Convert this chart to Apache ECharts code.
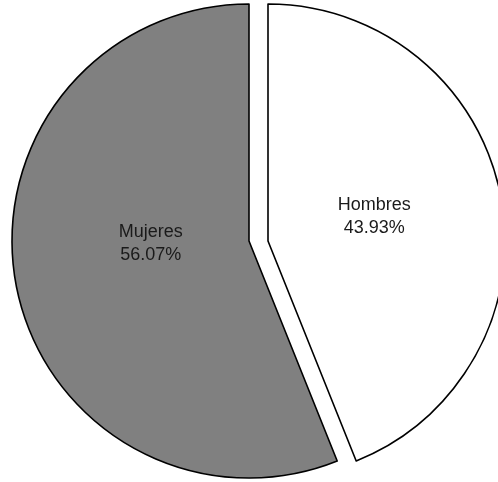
<!DOCTYPE html>
<html>
<head>
<meta charset="utf-8">
<script src="https://cdn.jsdelivr.net/npm/echarts@6/dist/echarts.min.js"></script>
<style>
html,body{margin:0;padding:0;background:#fff;}
#c{width:498px;height:482px;}
</style>
</head>
<body>
<div id="c"></div>
<script>
const categories = ['Hombres', 'Mujeres'];
const values = [43.93, 56.07];
const colors = ['#ffffff', '#808080'];
const explodedIndex = 0;
const labelOffsets = [[-13, -1], [21, -20]];

const baseCenter = [249, 241];
const explodedCenter = [268, 241];

function makeSeries(visibleIndex, center) {
  return {
    type: 'pie',
    center: center,
    radius: 237,
    startAngle: 90,
    clockwise: true,
    silent: true,
    avoidLabelOverlap: false,
    emphasis: {disabled: true},
    labelLine: {show: false},
    data: categories.map((c, i) => {
      const vis = visibleIndex(i);
      return {
        name: c,
        value: values[i],
        itemStyle: vis ? {color: colors[i], borderColor: '#000', borderWidth: 1.6}
                       : {color: 'rgba(0,0,0,0)', borderWidth: 0},
        label: vis ? {
          show: true,
          position: 'inside',
          offset: labelOffsets[i],
          fontFamily: '"Liberation Sans", Arial, sans-serif',
          fontSize: 18,
          lineHeight: 23,
          color: '#1a1a1a',
          formatter: p => p.name + '\n' + p.value.toFixed(2) + '%'
        } : {show: false}
      };
    })
  };
}

const chart = echarts.init(document.getElementById('c'), null, {renderer: 'canvas'});
chart.setOption({
  animation: false,
  series: [
    makeSeries(i => i !== explodedIndex, baseCenter),
    makeSeries(i => i === explodedIndex, explodedCenter)
  ]
});
</script>
</body>
</html>
